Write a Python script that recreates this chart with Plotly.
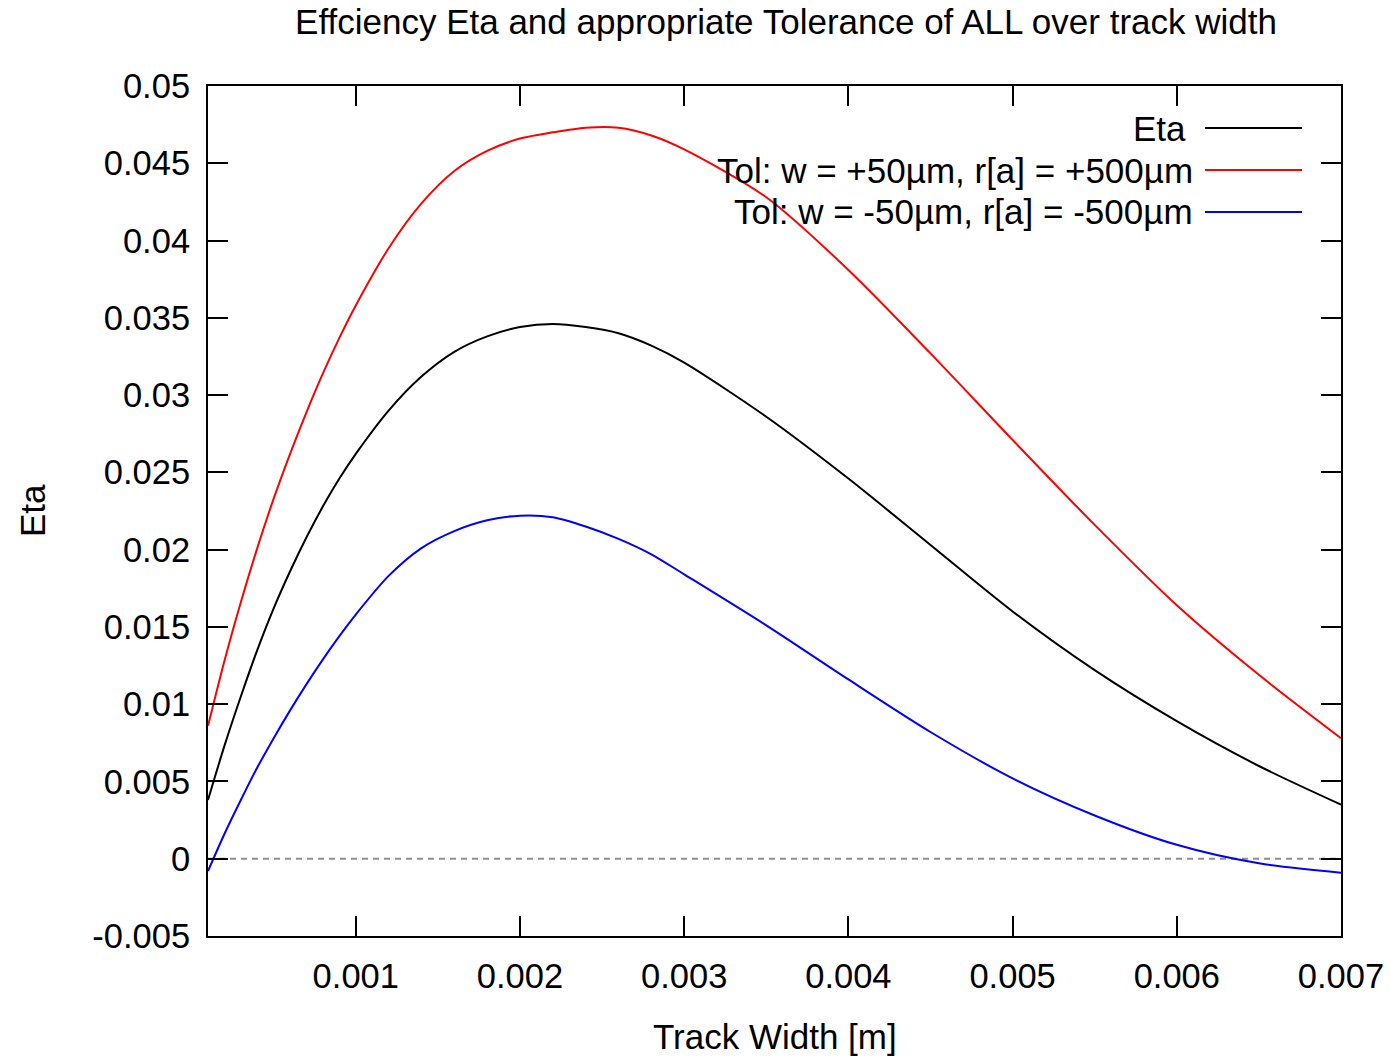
import plotly.graph_objects as go

# ---------------- data ----------------
track_width = [0.0001, 0.0002, 0.0003, 0.0004, 0.0005, 0.0006, 0.0007, 0.0008,
               0.0009, 0.0010, 0.0012, 0.0014, 0.0016, 0.0018, 0.0020, 0.0022,
               0.0024, 0.0026, 0.0028, 0.0030, 0.0035, 0.0040, 0.0045, 0.0050,
               0.0055, 0.0060, 0.0065, 0.0070]

eta = [0.0038, 0.0073, 0.0105, 0.0135, 0.0162, 0.0186, 0.0208, 0.0228,
       0.0246, 0.0262, 0.0290, 0.0312, 0.0328, 0.0338, 0.0344, 0.0346,
       0.0344, 0.0340, 0.0332, 0.0321, 0.0286, 0.0246, 0.0203, 0.0160,
       0.0122, 0.0089, 0.0060, 0.0035]

tol_plus = [0.0086, 0.0128, 0.0166, 0.0201, 0.0233, 0.0262, 0.0289, 0.0314,
            0.0337, 0.0358, 0.0395, 0.0424, 0.0445, 0.0458, 0.0466, 0.0470,
            0.0473, 0.0473, 0.0468, 0.0459, 0.0428, 0.0381, 0.0327, 0.0271,
            0.0216, 0.0164, 0.0119, 0.0078]

tol_minus = [-0.0008, 0.0016, 0.0038, 0.0059, 0.0078, 0.0096, 0.0113, 0.0129,
             0.0144, 0.0158, 0.0183, 0.0201, 0.0212, 0.0219, 0.0222, 0.0221,
             0.0215, 0.0207, 0.0197, 0.0184, 0.0151, 0.0116, 0.0082, 0.0052,
             0.0028, 0.0009, -0.0003, -0.0009]

series_names = ["Eta",
                "Tol: w = +50µm, r[a] = +500µm",
                "Tol: w = -50µm, r[a] = -500µm"]
series_colors = ["#000000", "#ff0000", "#0000ff"]

x_tick_vals = [0.001, 0.002, 0.003, 0.004, 0.005, 0.006, 0.007]
x_tick_text = ["0.001", "0.002", "0.003", "0.004", "0.005", "0.006", "0.007"]
y_tick_vals = [-0.005, 0, 0.005, 0.01, 0.015, 0.02, 0.025, 0.03, 0.035, 0.04, 0.045, 0.05]
y_tick_text = ["-0.005", "0", "0.005", "0.01", "0.015", "0.02", "0.025", "0.03",
               "0.035", "0.04", "0.045", "0.05"]

title_text = "Effciency Eta and appropriate Tolerance of ALL over track width"
x_title = "Track Width [m]"
y_title = "Eta"

# ---------------- layout geometry (pixels) ----------------
W, H = 1390, 1058
L, R, T, B = 208, 1341, 86, 936
FONT = "Liberation Sans, Arial, Helvetica, sans-serif"
FS = 35
FS_TICK = 34.5

def px(xp):
    return (xp - L) / (R - L)

def py(yp):
    return (B - yp) / (B - T)

fig = go.Figure()
for ys, name, col in zip([eta, tol_plus, tol_minus], series_names, series_colors):
    fig.add_trace(go.Scatter(x=track_width, y=ys, mode="lines", name=name,
                             line=dict(color=col, width=2, shape="spline", smoothing=0.8),
                             showlegend=False))

shapes = [dict(type="line", xref="paper", yref="y", x0=0, x1=1, y0=0, y1=0,
               line=dict(color="#909090", width=2, dash="6px,5px"), layer="below")]
annotations = []
legend_rows = [128, 170, 212]
legend_text_right = [1188, 1195, 1195]
for i, name in enumerate(series_names):
    yrow = legend_rows[i]
    annotations.append(dict(xref="paper", yref="paper", x=px(legend_text_right[i]), y=py(yrow),
                            text=name, showarrow=False, xanchor="right", yanchor="middle",
                            font=dict(family=FONT, size=FS, color="black")))
    shapes.append(dict(type="line", xref="paper", yref="paper",
                       x0=px(1205), x1=px(1302), y0=py(yrow), y1=py(yrow),
                       line=dict(color=series_colors[i], width=2)))

annotations.append(dict(xref="paper", yref="paper", x=px(32), y=0.5, text=y_title,
                        textangle=-90, showarrow=False, xanchor="center", yanchor="middle",
                        font=dict(family=FONT, size=FS, color="black")))
annotations.append(dict(xref="paper", yref="paper", x=0.5, y=py(1036), text=x_title,
                        showarrow=False, xanchor="center", yanchor="middle",
                        font=dict(family=FONT, size=FS, color="black")))

axis_common = dict(showline=True, linecolor="black", linewidth=2, mirror="allticks",
                   ticks="inside", ticklen=20, tickwidth=2, tickcolor="black",
                   showgrid=False, zeroline=False, automargin=False,
                   tickfont=dict(family=FONT, size=FS_TICK, color="black"))

fig.update_layout(
    width=W, height=H,
    margin=dict(l=L, r=W - R, t=T, b=H - B, pad=0),
    paper_bgcolor="white", plot_bgcolor="white",
    title=dict(text=title_text, x=786 / W, xanchor="center", xref="container",
               y=1 - 22 / H, yanchor="middle", yref="container",
               font=dict(family=FONT, size=FS, color="black")),
    xaxis=dict(range=[0.0001, 0.007], tickvals=x_tick_vals, ticktext=x_tick_text,
               ticklabelstandoff=9, **axis_common),
    yaxis=dict(range=[-0.005, 0.05], tickvals=y_tick_vals, ticktext=y_tick_text,
               ticklabelstandoff=9, **axis_common),
    shapes=shapes, annotations=annotations, showlegend=False,
)

fig.write_html("out.html")
